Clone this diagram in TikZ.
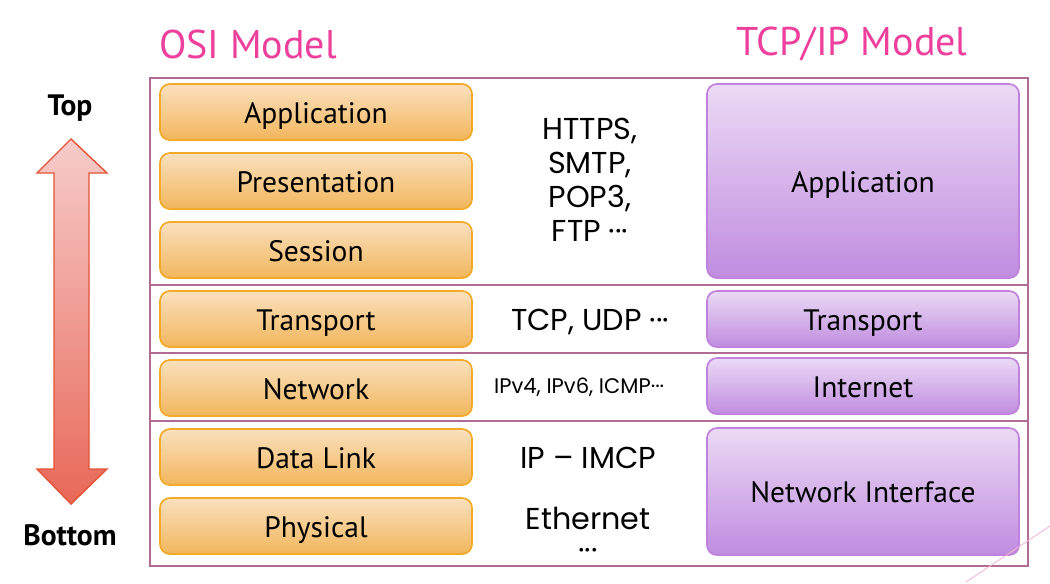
\documentclass[tikz,border=0pt]{standalone}
\usepackage{fontspec}
\setmainfont{PT Sans}
\newfontfamily\midfont{Poppins}
\usepackage{xcolor}
\usepackage{tikz}
\usetikzlibrary{arrows.meta, positioning, calc}

\definecolor{titlepink}{RGB}{236,64,156}
\definecolor{framecol}{RGB}{176,108,148}
\definecolor{ositop}{RGB}{250,224,190}
\definecolor{osibot}{RGB}{242,182,92}
\definecolor{osiline}{RGB}{242,170,40}
\definecolor{tcptop}{RGB}{235,218,244}
\definecolor{tcpbot}{RGB}{192,140,224}
\definecolor{tcpline}{RGB}{192,130,220}
\definecolor{arrtop}{RGB}{246,204,202}
\definecolor{arrbot}{RGB}{232,104,88}
\definecolor{arrline}{RGB}{228,84,52}

\newcommand{\mdots}{\char"00B7\char"00B7\char"00B7}

\begin{document}
\begin{tikzpicture}[
    osibox/.style={rectangle, rounded corners=7pt, draw=osiline, line width=1.2pt,
                   top color=ositop, bottom color=osibot, minimum width=78mm,
                   minimum height=14mm, text height=16pt, text depth=0pt,
                   font=\fontsize{21}{25}\selectfont},
    tcpbox/.style={rectangle, rounded corners=7pt, draw=tcpline, line width=1.2pt,
                   top color=tcptop, bottom color=tcpbot, minimum width=78mm,
                   minimum height=14mm, text height=16pt, text depth=0pt,
                   font=\fontsize{21}{25}\selectfont},
    proto/.style={align=center, font=\midfont\fontsize{21.5}{24.2}\selectfont},
    title/.style={text=titlepink, font=\fontsize{28.5}{32}\selectfont},
    ends/.style={font=\bfseries\fontsize{21}{24}\selectfont},
    node distance=2.83mm,
]
    \useasboundingbox (0,0) rectangle (26.25,-14.575);

    % Titles
    \node[title] (osititle) at (6.2,-1.1) {OSI Model};
    \node[title] (tcptitle) at (21.3,-1.1) {TCP/IP Model};

    % Frame and layer borders
    \draw[framecol, line width=1.2pt] (3.75,-1.95) rectangle (25.7,-14.15);
    \foreach \y in {-7.125, -8.825, -10.525}
        \draw[framecol, line width=1.2pt] (3.75,\y) -- (25.7,\y);

    % OSI layers
    \node[osibox] (app) at (7.9,-2.8) {Application};
    \node[osibox, below=of app] (pres) {Presentation};
    \node[osibox, below=of pres] (sess) {Session};
    \node[osibox, below=of sess] (trans) {Transport};
    \node[osibox, below=of trans] (net) {Network};
    \node[osibox, below=of net] (dlink) {Data Link};
    \node[osibox, below=of dlink] (phys) {Physical};

    % TCP/IP layers
    \coordinate (tcpx) at (21.575,0);
    \node[tcpbox, minimum height=48.5mm] (tapp) at (tcpx |- pres) {Application};
    \node[tcpbox] (ttrans) at (tcpx |- trans) {Transport};
    \node[tcpbox] (tinet) at ($(tcpx |- net)+(0,0.05)$) {Internet};
    \node[tcpbox, minimum height=31.75mm] (tnif)
         at ($(tcpx |- dlink)!0.5!(tcpx |- phys)$) {Network Interface};

    % Protocols
    \coordinate (midx) at (14.75,0);
    \node[proto] (papp) at (14.75,-4.5) {HTTPS,\\SMTP,\\POP3,\\FTP \mdots};
    \node[proto] (ptrans) at ($(midx |- trans)+(0,-0.07)$) {TCP, UDP \mdots};
    \node[proto, font=\midfont\fontsize{15}{18}\selectfont]
         (pnet) at (14.48,-9.675) {IPv4, IPv6, ICMP\mdots};
    \node[proto] (plink) at (14.7,-11.45) {IP – IMCP};
    \node[proto, font=\midfont\fontsize{21.5}{22}\selectfont]
         (pphys) at (14.7,-13.35) {Ethernet\\\mdots};

    % Top / bottom arrow
    \node[ends] (top) at (1.75,-2.7) {Top};
    \node[ends] (bottom) at (1.75,-13.375) {Bottom};
    \draw[arrline, line width=1pt, top color=arrtop, bottom color=arrbot]
        (1.775,-3.475) -- (2.675,-4.325) -- (2.225,-4.325) -- (2.225,-11.725)
        -- (2.675,-11.725) -- (1.775,-12.6) -- (0.925,-11.725) -- (1.35,-11.725)
        -- (1.35,-4.325) -- (0.925,-4.325) -- cycle;

    % Corner accent
    \draw[titlepink!40, line width=0.6pt] (26.25,-13.15) -- (24.15,-14.55);
\end{tikzpicture}
\end{document}
